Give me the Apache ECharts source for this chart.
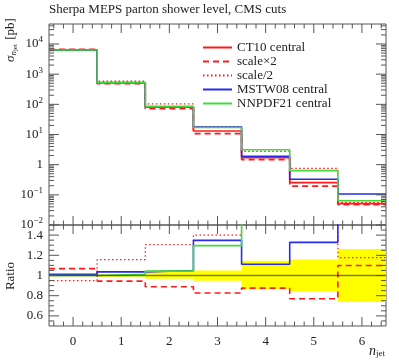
<!DOCTYPE html>
<html><head><meta charset="utf-8">
<script src="https://cdn.jsdelivr.net/npm/echarts@6/dist/echarts.min.js"></script>
<style>html,body{margin:0;padding:0;background:#fff}#c{width:399px;height:360px}</style>
</head><body><div id="c"></div>
<script>
// ---- data ----
const nJet = [0, 1, 2, 3, 4, 5, 6];
const ct10      = [6300, 510, 80, 13.1, 1.70, 0.254, 0.051];
const scaleX2   = [6700, 482, 71, 10.7, 1.47, 0.195, 0.047];
const scaleHalf = [6000, 590, 104, 18.3, 2.76, 0.75, 0.056];
const mstw08    = [6380, 528, 84, 17.6, 1.88, 0.327, 0.106];
const nnpdf21   = [6300, 517, 83, 17.0, 3.12, 0.633, 0.064];

const ratioRef   = [1, 1, 1, 1, 1, 1, 1];
const ratioX2    = [1.068, 0.944, 0.888, 0.826, 0.875, 0.770, 1.099];
const ratioHalf  = [0.950, 1.158, 1.305, 1.400, 1.62, 2.95, 1.177];
const ratioMstw  = [1.013, 1.036, 1.050, 1.348, 1.112, 1.328, 2.08];
const ratioNnpdf = [1.000, 1.013, 1.043, 1.296, 1.84, 2.49, 1.6];
const bandLo = [0.992, 0.988, 0.967, 0.947, 0.865, 0.842, 0.737];
const bandHi = [1.008, 1.012, 1.036, 1.050, 1.145, 1.158, 1.263];

// tick positions
const xMajorTicks = [0, 1, 2, 3, 4, 5, 6];
const xMinorTicks = [-0.4,-0.2,0.2,0.4,0.6,0.8,1.2,1.4,1.6,1.8,2.2,2.4,2.6,2.8,3.2,3.4,3.6,3.8,4.2,4.4,4.6,4.8,5.2,5.4,5.6,5.8,6.2,6.4];
const logMajorTicks = [0.01, 0.1, 1, 10, 100, 1000, 10000];
const logMinorMult = [2, 3, 4, 5, 6, 7, 8, 9];
const ratioMajorTicks = [0.6, 0.8, 1.0, 1.2, 1.4];
const ratioMinorTicks = [0.55,0.65,0.7,0.75,0.85,0.9,0.95,1.05,1.1,1.15,1.25,1.3,1.35,1.45];

const X_MIN = -0.5, X_MAX = 6.5;
const Y_MIN = 0.01, Y_MAX = 46000;
const R_MIN = 0.5, R_MAX = 1.5;

const FONT = 'Liberation Serif';
const INK = '#222';
const FRAME = '#555';

function steps(vals) {
  const d = vals.map((v, i) => [nJet[i] - 0.5, v]);
  d.push([nJet[nJet.length - 1] + 0.5, vals[vals.length - 1]]);
  return d;
}

const logMinorTicks = [];
logMajorTicks.forEach(p => logMinorMult.forEach(m => { const v = m * p; if (v < Y_MAX) logMinorTicks.push(v); }));

function tickSeries(xi, yi, yMin, yMax, yMaj, yMin2) {
  const data = [];
  xMajorTicks.forEach(v => data.push([1, 1, 0, v, 9]));
  xMinorTicks.forEach(v => data.push([1, 1, 0, v, 4.5]));
  yMaj.forEach(v => data.push([1, 1, 1, v, 10]));
  yMin2.forEach(v => data.push([1, 1, 1, v, 5]));
  return {
    type: 'custom', xAxisIndex: xi, yAxisIndex: yi, silent: true, clip: false, z: 20,
    data,
    renderItem(params, api) {
      const kind = api.value(2), v = api.value(3), len = api.value(4);
      const st = { stroke: FRAME, lineWidth: 1 };
      if (kind === 0) {
        const a = api.coord([v, yMin]), b = api.coord([v, yMax]);
        return { type: 'group', children: [
          { type: 'line', shape: { x1: a[0], y1: a[1], x2: a[0], y2: a[1] - len }, style: st },
          { type: 'line', shape: { x1: b[0], y1: b[1], x2: b[0], y2: b[1] + len }, style: st }
        ]};
      } else {
        const a = api.coord([X_MIN, v]), b = api.coord([X_MAX, v]);
        return { type: 'group', children: [
          { type: 'line', shape: { x1: a[0], y1: a[1], x2: a[0] + len, y2: a[1] }, style: st },
          { type: 'line', shape: { x1: b[0], y1: b[1], x2: b[0] - len, y2: b[1] }, style: st }
        ]};
      }
    }
  };
}

const chart = echarts.init(document.getElementById('c'), null, { renderer: 'canvas' });

const RED = '#ff1a1a', BLUE = '#2a2aee', GREEN = '#3ddc3d';

function lineS(name, vals, color, type, width, xi, yi, z) {
  return {
    name, type: 'line', step: 'end', data: steps(vals), xAxisIndex: xi, yAxisIndex: yi,
    symbol: 'none', clip: true, z, animation: false,
    lineStyle: { color, type, width }, itemStyle: { color },
    legendHoverLink: false
  };
}

const option = {
  animation: false,
  textStyle: { fontFamily: FONT, color: INK },
  grid: [
    { left: 49, right: 13, top: 24, height: 201, show: true, borderColor: FRAME, borderWidth: 1, backgroundColor: 'transparent' },
    { left: 49, right: 13, top: 225, height: 101, show: true, borderColor: FRAME, borderWidth: 1, backgroundColor: 'transparent' }
  ],
  legend: {
    orient: 'vertical', left: 197, top: 36, itemWidth: 29, itemHeight: 14, itemGap: 1,
    itemStyle: { opacity: 0 },
    textStyle: { fontFamily: FONT, fontSize: 13, color: INK },
    data: ['CT10 central', 'scale×2', 'scale/2', 'MSTW08 central', 'NNPDF21 central'],
    selectedMode: false
  },
  xAxis: [
    { gridIndex: 0, type: 'value', min: X_MIN, max: X_MAX, splitNumber: 7,
      axisLine: { show: false }, axisTick: { show: false }, splitLine: { show: false }, axisLabel: { show: false } },
    { gridIndex: 1, type: 'value', min: X_MIN, max: X_MAX, splitNumber: 7,
      axisLine: { show: false }, axisTick: { show: false }, splitLine: { show: false },
      axisLabel: { show: true, fontFamily: FONT, fontSize: 13, color: INK, margin: 9,
        formatter: v => (Math.abs(v - Math.round(v)) < 1e-6 ? String(Math.round(v)) : '') } }
  ],
  yAxis: [
    { gridIndex: 0, type: 'log', logBase: 10, min: Y_MIN, max: Y_MAX, splitNumber: 7,
      axisLine: { show: false }, axisTick: { show: false }, splitLine: { show: false },
      axisLabel: { show: true, fontFamily: FONT, fontSize: 13, color: INK, margin: 6,
        formatter: v => {
          const e = Math.round(Math.log10(v));
          if (Math.abs(Math.log10(v) - e) > 1e-6) return '';
          if (e === 0) return '1';
          return '10{s|' + (e < 0 ? '−' : '') + Math.abs(e) + '}';
        },
        rich: { s: { fontFamily: FONT, fontSize: 9, color: INK, padding: [0, 0, 8, 0] } } } },
    { gridIndex: 1, type: 'value', min: R_MIN, max: R_MAX, splitNumber: 5,
      axisLine: { show: false }, axisTick: { show: false }, splitLine: { show: false },
      axisLabel: { show: true, fontFamily: FONT, fontSize: 13, color: INK, margin: 6,
        showMinLabel: false, showMaxLabel: false,
        formatter: v => {
          const t = Math.round(v * 10);
          if (Math.abs(v * 10 - t) > 1e-6 || t % 2 !== 0) return '';
          return String(t / 10);
        } } }
  ],
  series: [
    lineS('CT10 central', ct10, RED, 'solid', 1.6, 0, 0, 2),
    lineS('scale×2', scaleX2, RED, [6, 4], 1.6, 0, 0, 2),
    lineS('scale/2', scaleHalf, RED, [1.5, 2.5], 1.2, 0, 0, 2),
    lineS('MSTW08 central', mstw08, BLUE, 'solid', 1.6, 0, 0, 3),
    lineS('NNPDF21 central', nnpdf21, GREEN, 'solid', 1.6, 0, 0, 4),
    {
      type: 'custom', name: 'band', xAxisIndex: 1, yAxisIndex: 1, silent: true, z: 1,
      data: nJet.map((n, i) => [n, bandLo[i], bandHi[i]]),
      renderItem(params, api) {
        const n = api.value(0);
        const p1 = api.coord([n - 0.5, api.value(2)]);
        const p2 = api.coord([n + 0.5, api.value(1)]);
        return { type: 'rect', shape: { x: p1[0], y: p1[1], width: p2[0] - p1[0], height: p2[1] - p1[1] },
          style: { fill: '#ffff00' } };
      }
    },
    { name: 'ref', type: 'line', step: 'end', data: steps(ratioRef), xAxisIndex: 1, yAxisIndex: 1,
      symbol: 'none', z: 6, lineStyle: { color: 'rgba(0,0,0,0.5)', width: 1.4 } },
    { name: 'scale×2', type: 'line', step: 'end', data: steps(ratioX2), xAxisIndex: 1, yAxisIndex: 1, symbol: 'none', clip: true, z: 3, lineStyle: { color: RED, type: [6, 4], width: 1.6 } },
    { name: 'scale/2', type: 'line', step: 'end', data: steps(ratioHalf), xAxisIndex: 1, yAxisIndex: 1, symbol: 'none', clip: true, z: 3, lineStyle: { color: RED, type: [1.5, 2.5], width: 1.2 } },
    { name: 'MSTW08 central', type: 'line', step: 'end', data: steps(ratioMstw), xAxisIndex: 1, yAxisIndex: 1, symbol: 'none', clip: true, z: 4, lineStyle: { color: BLUE, width: 1.6 } },
    { name: 'NNPDF21 central', type: 'line', step: 'end', data: steps(ratioNnpdf), xAxisIndex: 1, yAxisIndex: 1, symbol: 'none', clip: true, z: 5, lineStyle: { color: GREEN, width: 1.6 } },
    tickSeries(0, 0, Y_MIN, Y_MAX, logMajorTicks, logMinorTicks),
    tickSeries(1, 1, R_MIN, R_MAX, ratioMajorTicks, ratioMinorTicks)
  ],
  graphic: [
    { type: 'text', left: 49, top: 3, style: { text: 'Sherpa MEPS parton shower level, CMS cuts', font: '13px "Liberation Serif"', fill: INK } },
    { type: 'text', x: 11, y: 40, rotation: Math.PI / 2,
      style: { text: '{i|σ}{s|n}{t|jet} [pb]', align: 'center', verticalAlign: 'middle', font: '13px "Liberation Serif"', fill: INK,
        rich: { i: { fontFamily: FONT, fontStyle: 'italic', fontSize: 13, fill: INK },
                s: { fontFamily: FONT, fontStyle: 'italic', fontSize: 9, fill: INK, padding: [5, 0, 0, 0] },
                t: { fontFamily: FONT, fontSize: 7, fill: INK, padding: [8, 1, 0, 0] } } } },
    { type: 'text', x: 11, y: 276, rotation: Math.PI / 2,
      style: { text: 'Ratio', align: 'center', verticalAlign: 'middle', font: '13px "Liberation Serif"', fill: INK } },
    { type: 'text', x: 385, y: 351,
      style: { text: '{i|n}{s|jet}', align: 'right', verticalAlign: 'middle', fill: INK,
        rich: { i: { fontFamily: FONT, fontStyle: 'italic', fontSize: 14, fill: INK },
                s: { fontFamily: FONT, fontSize: 9, fill: INK, padding: [6, 0, 0, 0] } } } }
  ]
};
chart.setOption(option);
</script>
</body></html>
